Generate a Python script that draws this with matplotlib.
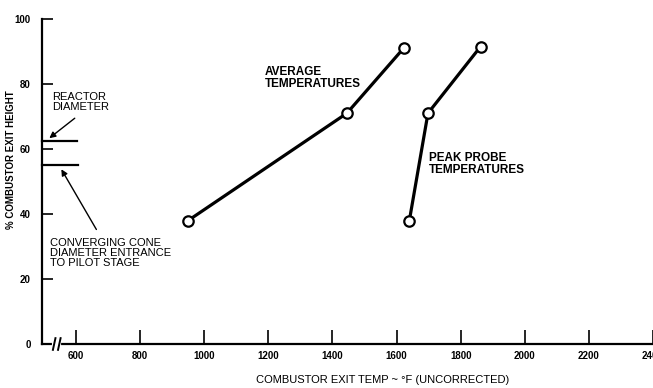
import numpy as np
import matplotlib
matplotlib.use("Agg")
import matplotlib.pyplot as plt

plt.rcParams['font.family'] = ['Liberation Sans', 'DejaVu Sans']

# exit temperature (deg F) vs. percent of combustor exit height
avg_temp = [950, 1445, 1622]
avg_height = [38, 71, 91]
peak_temp = [1640, 1698, 1862]
peak_height = [38, 71, 91.5]

reactor_dia = 62.5
cone_dia = 55

x_ticks = [600, 800, 1000, 1200, 1400, 1600, 1800, 2000, 2200, 2400]
y_ticks = [0, 20, 40, 60, 80, 100]

fig = plt.figure(figsize=(6.53, 3.88), dpi=100)
ax = fig.add_axes([42 / 653, 44 / 388, 611 / 653, 325 / 388])

line_kw = dict(color='black', linewidth=2.3, marker='o', markersize=7.5,
               markerfacecolor='white', markeredgecolor='black',
               markeredgewidth=1.6, zorder=3)
ax.plot(avg_temp, avg_height, **line_kw)
ax.plot(peak_temp, peak_height, **line_kw)

# reference diameters drawn off the axis
ax.plot([494, 603], [reactor_dia, reactor_dia], color='black', linewidth=1.6, clip_on=False)
ax.plot([494, 606], [cone_dia, cone_dia], color='black', linewidth=1.6, clip_on=False)

ax.set_xlim(494, 2394)
ax.set_ylim(0, 100)

for side in ['top', 'right']:
    ax.spines[side].set_visible(False)
for side in ['left', 'bottom']:
    ax.spines[side].set_linewidth(1.6)

ax.set_xticks(x_ticks)
ax.set_yticks(y_ticks)
ax.set_xticklabels([str(t) for t in x_ticks], fontsize=7, fontweight='bold')
ax.set_yticklabels([str(t) for t in y_ticks], fontsize=7, fontweight='bold')
ax.tick_params(axis='x', direction='in', length=10, width=1.2, pad=5)
ax.tick_params(axis='y', direction='in', length=8, width=1.2, pad=8)

# axis break near the origin
ax.plot([532, 548], [0, 0], color='white', linewidth=3, clip_on=False, zorder=4)
for xb in [532, 548]:
    ax.plot([xb - 4, xb + 4], [-1.8, 1.8], color='black', linewidth=1.4,
            clip_on=False, zorder=5)

ax.set_xlabel('COMBUSTOR EXIT TEMP ~ °F (UNCORRECTED)', fontsize=8)
ax.xaxis.set_label_coords((383 - 42) / 611, -0.095)
ax.set_ylabel('% COMBUSTOR EXIT HEIGHT', fontsize=7, fontweight='bold')
ax.yaxis.set_label_coords(-26 / 611, (344 - 160) / 325)

ax.text(1190, 85.5, 'AVERAGE\nTEMPERATURES', fontsize=8.5, fontweight='bold',
        va='top', ha='left', linespacing=0.95)
ax.text(1700, 59, 'PEAK PROBE\nTEMPERATURES', fontsize=8.5, fontweight='bold',
        va='top', ha='left', linespacing=0.95)
ax.text(525, 77.5, 'REACTOR\nDIAMETER', fontsize=8, va='top', ha='left',
        linespacing=1.0, clip_on=False)
ax.text(519, 32.5, 'CONVERGING CONE\nDIAMETER ENTRANCE\nTO PILOT STAGE', fontsize=8,
        va='top', ha='left', linespacing=0.95, clip_on=False)

arrow_kw = dict(arrowstyle='-|>', color='black', linewidth=1.0, mutation_scale=9)
ax.annotate('', xy=(510, 62.8), xytext=(603, 70), arrowprops=arrow_kw,
            annotation_clip=False)
ax.annotate('', xy=(550, 54.5), xytext=(668, 34.5), arrowprops=arrow_kw,
            annotation_clip=False)

fig.savefig('out.png', dpi=100)
